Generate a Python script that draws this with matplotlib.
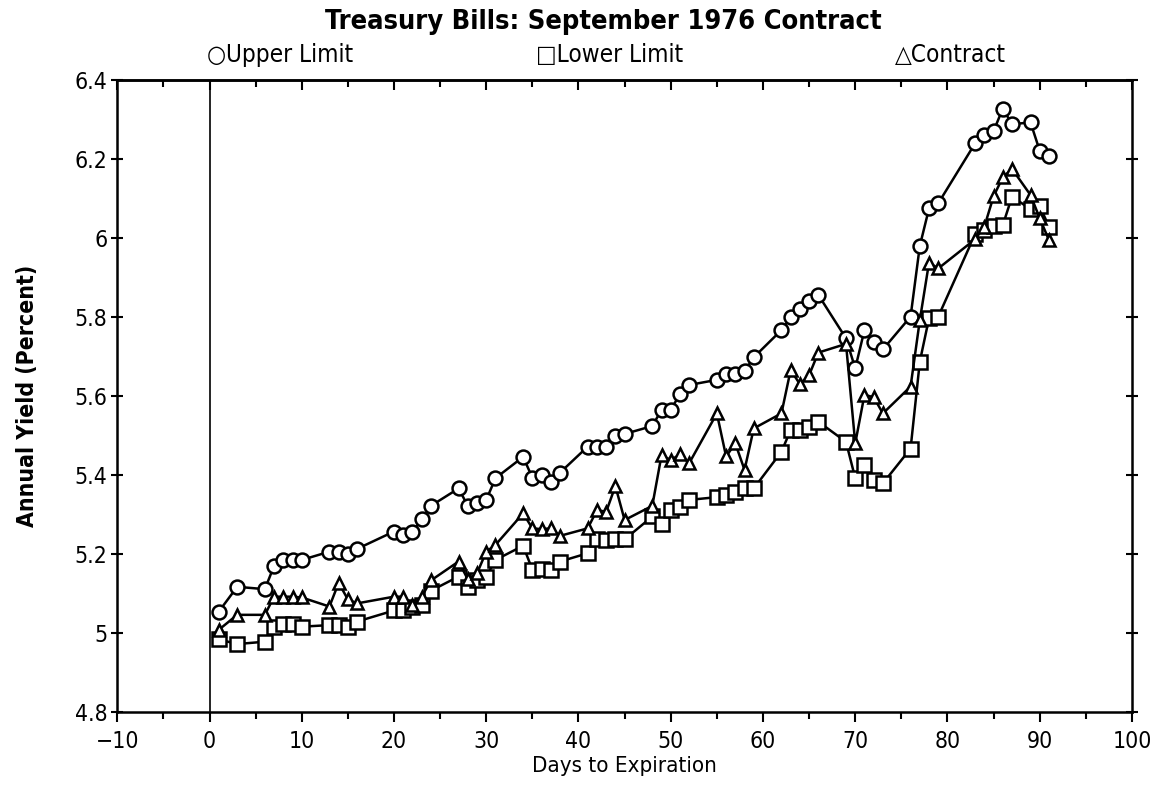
import matplotlib
matplotlib.use("Agg")
import matplotlib.pyplot as plt
from matplotlib.ticker import MultipleLocator

plt.rcParams['font.family'] = ['DejaVu Sans']
plt.rcParams['font.stretch'] = 'condensed'

# days to expiration (same trading days for all three series)
days = [1, 3, 6, 7, 8, 9, 10, 13, 14, 15, 16, 20, 21, 22, 23, 24,
        27, 28, 29, 30, 31, 34, 35, 36, 37, 38, 41, 42, 43, 44, 45,
        48, 49, 50, 51, 52, 55, 56, 57, 58, 59, 62, 63, 64, 65, 66,
        69, 70, 71, 72, 73, 76, 77, 78, 79, 83, 84, 85, 86, 87, 89, 90, 91]

upper = [5.054, 5.117, 5.111, 5.170, 5.185, 5.185, 5.185, 5.206, 5.206, 5.200,
         5.213, 5.257, 5.248, 5.255, 5.288, 5.322, 5.366, 5.322, 5.328, 5.337,
         5.392, 5.446, 5.393, 5.400, 5.383, 5.406, 5.472, 5.472, 5.472, 5.500,
         5.504, 5.524, 5.565, 5.565, 5.605, 5.628, 5.641, 5.655, 5.655, 5.663,
         5.698, 5.767, 5.799, 5.820, 5.841, 5.856, 5.746, 5.670, 5.767, 5.737,
         5.718, 5.801, 5.980, 6.075, 6.088, 6.240, 6.261, 6.271, 6.328, 6.288,
         6.293, 6.221, 6.208]

lower = [4.984, 4.972, 4.978, 5.016, 5.023, 5.023, 5.016, 5.020, 5.020, 5.016,
         5.029, 5.057, 5.057, 5.065, 5.071, 5.107, 5.143, 5.117, 5.134, 5.143,
         5.185, 5.221, 5.160, 5.161, 5.160, 5.181, 5.202, 5.237, 5.235, 5.237,
         5.237, 5.295, 5.276, 5.311, 5.320, 5.337, 5.344, 5.349, 5.358, 5.366,
         5.366, 5.459, 5.514, 5.514, 5.522, 5.535, 5.484, 5.392, 5.425, 5.387,
         5.379, 5.467, 5.687, 5.797, 5.801, 6.010, 6.020, 6.030, 6.033, 6.105,
         6.073, 6.081, 6.029]

contract = [5.008, 5.046, 5.046, 5.092, 5.092, 5.092, 5.090, 5.067, 5.127, 5.085,
            5.075, 5.092, 5.092, 5.071, 5.092, 5.133, 5.181, 5.136, 5.151, 5.206,
            5.223, 5.303, 5.265, 5.263, 5.265, 5.246, 5.265, 5.311, 5.307, 5.372,
            5.286, 5.322, 5.450, 5.438, 5.452, 5.430, 5.556, 5.447, 5.480, 5.413,
            5.518, 5.556, 5.666, 5.630, 5.653, 5.710, 5.732, 5.480, 5.603, 5.597,
            5.556, 5.624, 5.792, 5.938, 5.923, 5.997, 6.029, 6.106, 6.154, 6.175,
            6.109, 6.050, 5.995]

fig = plt.figure(figsize=(11.61, 7.85), dpi=100)
ax = fig.add_axes([0.101, 0.093, 0.874, 0.805])

style = dict(color='black', lw=1.8, mfc='white', mec='black', mew=1.8)
ax.plot(days, upper, marker='o', ms=10, **style)
ax.plot(days, lower, marker='s', ms=9.5, **style)
ax.plot(days, contract, marker='^', ms=8.5, **style)

ax.axvline(0, color='black', lw=1.2, zorder=0)

ax.set_xlim(-10, 100)
ax.set_ylim(4.8, 6.4)
ax.xaxis.set_major_locator(MultipleLocator(10))
ax.xaxis.set_minor_locator(MultipleLocator(5))
ax.yaxis.set_major_locator(MultipleLocator(0.2))
ax.yaxis.set_major_formatter(plt.FuncFormatter(lambda v, p: f"{v:g}"))
ax.tick_params(axis='both', which='both', labelsize=16.5, width=1.5, color='black')
ax.tick_params(axis='x', which='major', direction='out', length=7, pad=6)
ax.tick_params(axis='x', which='minor', direction='out', length=5)
ax.tick_params(axis='y', which='major', direction='inout', length=8, right=True, pad=3)

# top axis: ticks pointing down into the plot, no labels
top = ax.secondary_xaxis('top')
top.xaxis.set_major_locator(MultipleLocator(10))
top.xaxis.set_minor_locator(MultipleLocator(5))
top.tick_params(which='major', direction='in', length=7, width=1.5, labeltop=False)
top.tick_params(which='minor', direction='in', length=5, width=1.5)

for s in list(ax.spines.values()) + list(top.spines.values()):
    s.set_linewidth(1.8)

ax.set_xlabel('Days to Expiration', fontsize=16, labelpad=2)
ax.set_ylabel('Annual Yield (Percent)', fontsize=16.5, fontweight='bold', labelpad=26)

fig.text(0.52, 0.972, 'Treasury Bills: September 1976 Contract', ha='center', va='center',
         fontsize=19.5, fontweight='bold')
fig.text(0.178, 0.93, '\u25cbUpper Limit', ha='left', va='center', fontsize=17.5)
fig.text(0.462, 0.93, '\u25a1Lower Limit', ha='left', va='center', fontsize=17.5)
fig.text(0.771, 0.93, '\u25b3Contract', ha='left', va='center', fontsize=17.5)

fig.savefig('out.png', dpi=100)
